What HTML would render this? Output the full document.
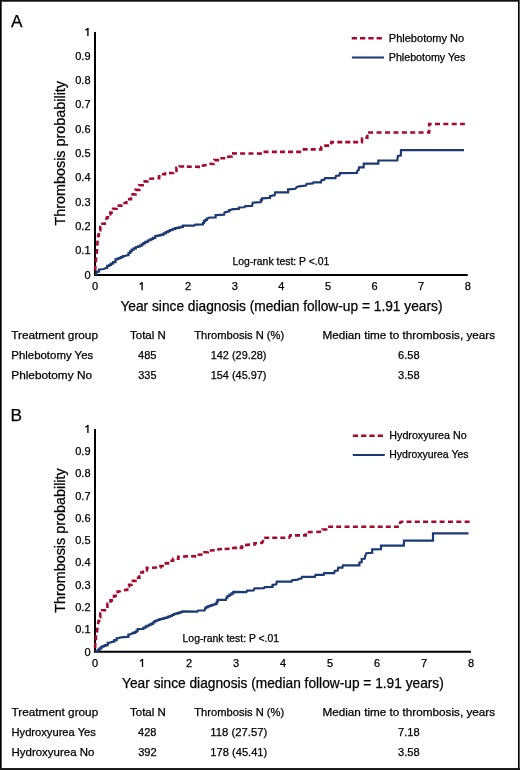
<!DOCTYPE html>
<html><head><meta charset="utf-8"><style>
html,body{margin:0;padding:0;background:#fff;}
body{width:520px;height:770px;overflow:hidden;}
svg{display:block;will-change:transform;}
text{font-family:"Liberation Sans", sans-serif;fill:#000;stroke:#000;stroke-width:0.25px;}
</style></head><body>
<svg width="520" height="770" viewBox="0 0 520 770">
<rect x="0" y="0" width="520" height="770" fill="#fff"/>
<g shape-rendering="crispEdges">
<rect x="0" y="0" width="520" height="1" fill="#111"/>
<rect x="0" y="1" width="520" height="1" fill="#555"/>
<rect x="0" y="0" width="1" height="770" fill="#000"/>
<rect x="1" y="1" width="1" height="768" fill="#555"/>
<rect x="518" y="0" width="1" height="770" fill="#000"/>
<rect x="519" y="0" width="1" height="770" fill="#5c5c5c"/>
<rect x="0" y="768" width="520" height="1" fill="#222"/>
<rect x="0" y="769" width="520" height="1" fill="#111"/>
</g>
<path d="M95 32 V274.9 H467.7" fill="none" stroke="#000" stroke-width="2" stroke-linecap="butt"/>
<text x="90.5" y="278.5" font-size="11" text-anchor="end">0</text>
<text x="90.5" y="254.21" font-size="11" text-anchor="end">0.1</text>
<text x="90.5" y="229.92" font-size="11" text-anchor="end">0.2</text>
<text x="90.5" y="205.63" font-size="11" text-anchor="end">0.3</text>
<text x="90.5" y="181.34" font-size="11" text-anchor="end">0.4</text>
<text x="90.5" y="157.05" font-size="11" text-anchor="end">0.5</text>
<text x="90.5" y="132.76" font-size="11" text-anchor="end">0.6</text>
<text x="90.5" y="108.47" font-size="11" text-anchor="end">0.7</text>
<text x="90.5" y="84.18" font-size="11" text-anchor="end">0.8</text>
<text x="90.5" y="59.89" font-size="11" text-anchor="end">0.9</text>
<path d="M87.90 28.10 V35.90" stroke="#000" stroke-width="1.35" fill="none"/><path d="M88.30 28.40 L85.40 30.20" stroke="#000" stroke-width="1.3" fill="none"/>
<text x="95.0" y="290.2" font-size="11" text-anchor="middle">0</text>
<path d="M142.09 282.30 V290.20" stroke="#000" stroke-width="1.35" fill="none"/><path d="M142.49 282.60 L139.59 284.40" stroke="#000" stroke-width="1.3" fill="none"/>
<text x="188.18" y="290.2" font-size="11" text-anchor="middle">2</text>
<text x="234.76" y="290.2" font-size="11" text-anchor="middle">3</text>
<text x="281.35" y="290.2" font-size="11" text-anchor="middle">4</text>
<text x="327.94" y="290.2" font-size="11" text-anchor="middle">5</text>
<text x="374.52" y="290.2" font-size="11" text-anchor="middle">6</text>
<text x="421.11" y="290.2" font-size="11" text-anchor="middle">7</text>
<text x="467.7" y="290.2" font-size="11" text-anchor="middle">8</text>
<polyline points="95.0,274.5 96.5,274.5 96.5,271.7 97.9,271.7 99.0,271.7 99.0,269.5 100.0,269.5 103.7,269.0 105.8,268.0 107.2,268.0 107.2,265.8 108.5,265.8 109.3,265.8 109.3,264.8 110.9,264.8 110.9,263.7 111.7,263.7 113.1,263.7 113.1,262.1 114.4,262.1 115.5,262.1 115.5,259.4 116.5,259.4 117.4,259.4 117.4,258.6 119.3,258.6 119.3,257.8 120.2,257.8 121.2,257.8 121.2,257.0 123.0,257.0 123.0,256.2 124.0,256.2 127.7,255.2 128.5,255.2 128.5,253.0 129.3,253.0 130.1,253.0 130.1,251.3 131.7,251.3 131.7,249.6 132.5,249.6 133.7,249.6 133.7,248.3 135.9,248.3 135.9,247.0 137.1,247.0 138.1,247.0 138.1,246.3 140.0,246.3 140.0,245.7 141.0,245.7 141.8,245.7 141.8,244.4 143.4,244.4 143.4,243.1 144.2,243.1 145.3,243.1 145.3,241.8 147.7,241.8 147.7,240.5 148.8,240.5 149.7,240.5 149.7,239.6 151.4,239.6 151.4,238.8 153.1,238.8 153.1,237.9 154.0,237.9 155.3,237.9 155.3,236.0 156.6,236.0 157.6,236.0 157.6,235.6 159.5,235.6 159.5,235.1 161.4,235.1 161.4,234.7 162.4,234.7 163.6,234.7 163.6,233.4 165.8,233.4 165.8,232.1 167.0,232.1 168.0,232.1 168.0,231.1 169.9,231.1 169.9,230.1 170.9,230.1 171.8,230.1 171.8,229.5 173.4,229.5 173.4,228.8 175.2,228.8 175.2,228.2 176.0,228.2 177.0,228.2 177.0,227.8 178.9,227.8 178.9,227.3 180.9,227.3 180.9,226.9 181.9,226.9 182.9,226.9 182.9,225.6 183.8,225.6 194.1,225.7 195.4,224.7 202.5,224.4 203.0,224.4 203.0,222.8 204.0,222.8 204.0,221.2 204.5,221.2 205.3,221.2 205.3,219.9 206.9,219.9 206.9,218.6 207.7,218.6 208.4,217.7 214.9,217.3 215.6,217.3 215.6,215.1 216.2,215.1 224.0,214.7 224.6,212.5 228.5,211.4 229.2,211.4 229.2,210.1 229.8,210.1 233.1,209.2 238.2,208.8 238.8,208.8 238.8,207.5 239.5,207.5 244.6,207.3 245.2,206.1 252.1,205.9 252.7,202.7 260.2,202.1 260.8,202.1 260.8,200.2 261.9,200.2 261.9,198.3 262.5,198.3 269.4,197.8 270.0,197.8 270.0,196.0 270.6,196.0 274.6,195.2 275.2,192.3 287.3,192.3 288.1,192.3 288.1,189.4 289.0,189.4 295.4,188.8 296.5,187.1 299.0,186.3 306.0,185.5 306.5,184.0 312.9,183.4 313.5,182.3 321.0,182.3 321.5,180.2 324.4,179.7 325.0,178.2 335.4,178.2 336.0,175.9 339.4,175.4 340.0,173.1 356.9,172.9 357.5,170.6 358.7,170.0 359.0,167.4 363.6,167.4 363.8,163.6 378.3,163.6 378.3,160.5 397.3,160.5 397.9,155.9 400.8,155.6 401.0,150.1 464.0,150.1" fill="none" stroke="#1b3a73" stroke-width="2.2" stroke-linejoin="miter"/>
<path d="M95.00,274.50 L95.02,273.93 M95.15,270.58 L95.35,265.59 M95.64,262.25 L96.24,257.29 M96.60,253.96 L97.10,249.30 L97.12,248.99 M97.30,245.64 L97.50,241.90 L97.64,240.65 M98.00,237.32 L98.20,235.50 L98.85,235.50 L98.85,232.99 M99.31,230.10 L99.50,230.10 L100.30,230.10 L100.30,227.00 L101.10,227.00 L101.21,227.00 M102.40,224.84 L102.40,223.80 L103.70,223.80 L104.75,223.80 L104.75,222.19 M106.23,219.94 L106.90,217.40 L107.95,217.40 L107.95,216.08 M109.42,214.20 L110.35,214.20 L110.35,212.60 L111.70,212.60 L112.82,212.60 M113.05,209.48 L113.05,208.80 L114.40,208.80 L116.50,208.80 L116.50,207.93 M117.52,205.60 L118.60,205.60 L121.30,205.60 L121.30,204.38 M123.27,203.00 L124.00,203.00 L126.35,203.00 L126.35,201.08 M127.92,199.30 L128.70,199.30 L130.95,199.30 L130.95,197.33 M131.37,194.40 L133.20,194.40 L135.45,194.40 L135.45,193.48 M135.45,190.13 L135.45,189.90 L137.70,189.90 L139.35,189.90 L139.35,189.03 M139.35,185.68 L139.35,185.30 L141.00,185.30 L142.60,185.30 L142.60,183.93 M143.42,181.40 L144.20,181.40 L147.45,181.40 L147.45,180.43 M149.17,178.80 L150.70,178.80 L154.16,178.53 M157.50,178.28 L158.50,178.20 L159.15,178.20 L159.15,176.20 L159.80,176.20 L160.50,176.20 M161.95,174.30 L163.10,174.30 L165.05,174.30 L165.05,173.65 L166.30,173.65 M169.00,173.00 L170.90,173.00 L173.15,173.00 L173.15,172.15 M175.35,171.00 L175.40,171.00 L176.40,171.00 L176.40,167.80 L177.15,167.80 M179.30,166.60 L179.30,166.50 L181.20,166.50 L184.20,166.56 M186.80,166.62 L191.80,166.73 M195.00,166.80 L199.90,166.90 L200.00,166.90 M201.77,165.60 L202.50,165.60 L206.74,165.03 M209.40,163.82 L213.60,164.00 L213.72,163.22 M214.19,160.18 L214.20,160.10 L218.80,160.10 L219.12,160.10 M220.30,158.20 L224.60,158.20 L225.30,158.20 M227.07,156.90 L227.20,156.90 L231.10,156.50 L231.75,156.50 L231.75,156.20 M232.03,153.40 L232.40,153.40 L237.03,153.43 M240.10,153.45 L245.10,153.49 M248.48,153.51 L253.48,153.54 M256.85,153.57 L261.85,153.60 M263.53,151.90 L268.53,151.90 M271.90,151.90 L276.90,151.90 M279.97,151.90 L284.97,151.90 M288.05,151.90 L293.05,151.90 M296.12,151.90 L301.12,151.90 M302.63,149.40 L307.63,149.40 M310.70,149.40 L315.70,149.40 M318.93,149.40 L320.40,149.40 L321.25,149.40 L321.25,147.10 L321.63,147.10 M324.14,145.60 L329.14,145.60 M331.27,144.43 L331.40,142.10 L334.07,142.10 M337.30,142.10 L342.30,142.10 M345.23,142.10 L350.23,142.10 M353.16,142.10 L358.16,142.10 M361.09,142.10 L361.90,142.10 L362.10,138.30 L362.48,138.24 M365.38,137.81 L366.10,137.70 L367.30,137.70 L367.30,134.63 M368.10,132.50 L368.50,132.50 L373.10,132.50 M376.55,132.50 L381.55,132.50 M385.00,132.50 L390.00,132.50 M393.45,132.50 L398.45,132.50 M401.90,132.50 L406.90,132.50 M410.22,132.50 L415.22,132.50 M418.54,132.50 L423.54,132.50 M426.86,132.50 L429.20,132.50 L429.20,129.84 M429.20,126.52 L429.20,124.00 L431.68,124.00 M435.00,124.00 L440.00,124.00 M443.35,124.00 L448.35,124.00 M451.70,124.00 L456.70,124.00 M460.05,124.00 L464.90,124.00 " fill="none" stroke="#a50a2d" stroke-width="2.6" stroke-linejoin="miter"/>
<text x="120.4" y="310.8" font-size="14.5" text-anchor="start" textLength="322.1" lengthAdjust="spacingAndGlyphs">Year since diagnosis (median follow-up = 1.91 years)</text>
<text transform="translate(65,225.5) rotate(-90)" x="0" y="0" font-size="14.5" textLength="144.5" lengthAdjust="spacingAndGlyphs">Thrombosis probability</text>
<line x1="351.7" y1="38.3" x2="382.5" y2="38.3" stroke="#a50a2d" stroke-width="2.6" stroke-dasharray="5.3 3"/>
<line x1="351.9" y1="57.5" x2="384" y2="57.5" stroke="#1b3a73" stroke-width="2.2"/>
<text x="388.8" y="41.8" font-size="10.4" text-anchor="start" textLength="75.4" lengthAdjust="spacingAndGlyphs">Phlebotomy No</text>
<text x="388.8" y="60.9" font-size="10.4" text-anchor="start" textLength="76.6" lengthAdjust="spacingAndGlyphs">Phlebotomy Yes</text>
<text x="232.5" y="264.8" font-size="10.4" text-anchor="start" textLength="96.8" lengthAdjust="spacingAndGlyphs">Log-rank test: P &lt;.01</text>
<text x="11.0" y="26.7" font-size="17.3" text-anchor="start">A</text>
<text x="11.25" y="339.2" font-size="11.3" text-anchor="start" textLength="86.75" lengthAdjust="spacingAndGlyphs">Treatment group</text>
<text x="147.9" y="339.2" font-size="11.3" text-anchor="middle" textLength="35.8" lengthAdjust="spacingAndGlyphs">Total N</text>
<text x="239.2" y="339.2" font-size="11.3" text-anchor="middle" textLength="90" lengthAdjust="spacingAndGlyphs">Thrombosis N (%)</text>
<text x="408.8" y="339.2" font-size="11.3" text-anchor="middle" textLength="172.7" lengthAdjust="spacingAndGlyphs">Median time to thrombosis, years</text>
<text x="11.25" y="359.1" font-size="11.3" text-anchor="start" textLength="82" lengthAdjust="spacingAndGlyphs">Phlebotomy Yes</text>
<text x="147.3" y="359.1" font-size="11.3" text-anchor="middle" textLength="18.5" lengthAdjust="spacingAndGlyphs">485</text>
<text x="238.6" y="359.1" font-size="11.3" text-anchor="middle" textLength="55.7" lengthAdjust="spacingAndGlyphs">142 (29.28)</text>
<text x="408.8" y="359.1" font-size="11.3" text-anchor="middle" textLength="21.6" lengthAdjust="spacingAndGlyphs">6.58</text>
<text x="11.25" y="378.8" font-size="11.3" text-anchor="start" textLength="80.75" lengthAdjust="spacingAndGlyphs">Phlebotomy No</text>
<text x="147.4" y="378.8" font-size="11.3" text-anchor="middle" textLength="18.2" lengthAdjust="spacingAndGlyphs">335</text>
<text x="238.6" y="378.8" font-size="11.3" text-anchor="middle" textLength="55.7" lengthAdjust="spacingAndGlyphs">154 (45.97)</text>
<text x="408.8" y="378.8" font-size="11.3" text-anchor="middle" textLength="21.6" lengthAdjust="spacingAndGlyphs">3.58</text>
<path d="M95 429 V651.7 H471" fill="none" stroke="#000" stroke-width="2" stroke-linecap="butt"/>
<text x="90.5" y="655.5" font-size="11" text-anchor="end">0</text>
<text x="90.5" y="633.23" font-size="11" text-anchor="end">0.1</text>
<text x="90.5" y="610.96" font-size="11" text-anchor="end">0.2</text>
<text x="90.5" y="588.69" font-size="11" text-anchor="end">0.3</text>
<text x="90.5" y="566.42" font-size="11" text-anchor="end">0.4</text>
<text x="90.5" y="544.15" font-size="11" text-anchor="end">0.5</text>
<text x="90.5" y="521.88" font-size="11" text-anchor="end">0.6</text>
<text x="90.5" y="499.61" font-size="11" text-anchor="end">0.7</text>
<text x="90.5" y="477.34" font-size="11" text-anchor="end">0.8</text>
<text x="90.5" y="455.07" font-size="11" text-anchor="end">0.9</text>
<path d="M87.90 425.10 V432.90" stroke="#000" stroke-width="1.35" fill="none"/><path d="M88.30 425.40 L85.40 427.20" stroke="#000" stroke-width="1.3" fill="none"/>
<text x="95.0" y="667" font-size="11" text-anchor="middle">0</text>
<path d="M142.50 659.10 V667.00" stroke="#000" stroke-width="1.35" fill="none"/><path d="M142.90 659.40 L140.00 661.20" stroke="#000" stroke-width="1.3" fill="none"/>
<text x="189.0" y="667" font-size="11" text-anchor="middle">2</text>
<text x="236.0" y="667" font-size="11" text-anchor="middle">3</text>
<text x="283.0" y="667" font-size="11" text-anchor="middle">4</text>
<text x="330.0" y="667" font-size="11" text-anchor="middle">5</text>
<text x="377.0" y="667" font-size="11" text-anchor="middle">6</text>
<text x="424.0" y="667" font-size="11" text-anchor="middle">7</text>
<text x="471.0" y="667" font-size="11" text-anchor="middle">8</text>
<polyline points="95.0,651.5 97.0,651.1 97.8,651.1 97.8,649.8 99.5,649.8 99.5,648.4 100.3,648.4 101.4,648.4 101.4,646.7 102.5,646.7 103.5,646.7 103.5,645.9 105.3,645.9 105.3,645.1 106.3,645.1 107.7,645.1 107.7,642.8 109.1,642.8 113.0,641.7 114.3,641.7 114.3,640.1 115.7,640.1 116.6,640.1 116.6,638.4 117.4,638.4 121.2,637.3 127.3,636.8 128.4,636.8 128.4,634.6 129.5,634.6 131.9,633.5 132.9,633.5 132.9,632.9 134.8,632.9 134.8,632.2 135.8,632.2 136.5,632.2 136.5,630.6 137.8,630.6 137.8,629.0 138.4,629.0 142.3,629.0 143.4,629.0 143.4,627.7 145.7,627.7 145.7,626.4 146.8,626.4 147.7,626.4 147.7,625.5 149.4,625.5 149.4,624.7 151.1,624.7 151.1,623.8 152.0,623.8 152.8,623.8 152.8,622.5 154.5,622.5 154.5,621.2 155.3,621.2 156.2,621.2 156.2,620.5 157.9,620.5 157.9,619.9 159.6,619.9 159.6,619.2 160.5,619.2 161.4,619.2 161.4,618.8 163.1,618.8 163.1,618.3 164.8,618.3 164.8,617.9 165.7,617.9 166.6,617.9 166.6,617.3 168.3,617.3 168.3,616.6 170.0,616.6 170.0,616.0 170.9,616.0 171.9,616.0 171.9,615.0 173.8,615.0 173.8,614.0 174.8,614.0 175.7,614.0 175.7,613.6 177.4,613.6 177.4,613.1 179.1,613.1 179.1,612.7 179.9,612.7 180.7,612.7 180.7,612.0 182.4,612.0 182.4,611.4 183.2,611.4 197.3,611.6 198.0,610.5 204.5,610.5 205.1,608.3 205.9,608.3 205.9,607.3 207.6,607.3 207.6,606.4 208.4,606.4 209.4,606.4 209.4,605.8 211.3,605.8 211.3,605.1 212.3,605.1 213.3,605.1 213.3,604.5 215.2,604.5 215.2,603.8 216.2,603.8 216.7,603.8 216.7,601.8 217.6,601.8 217.6,599.9 218.1,599.9 225.9,599.9 226.6,597.3 227.6,597.3 227.6,596.0 229.5,596.0 229.5,594.7 230.5,594.7 231.5,594.7 231.5,593.3 233.4,593.3 233.4,591.9 234.4,591.9 246.4,592.1 247.0,590.7 253.5,590.5 254.6,588.4 264.0,588.1 264.6,587.2 271.6,587.0 272.5,587.0 272.5,584.9 273.3,584.9 276.3,584.3 276.8,581.6 291.5,581.6 292.0,580.2 297.9,579.6 298.5,579.0 301.4,578.6 302.0,576.8 314.9,576.8 315.5,574.9 323.7,574.9 324.2,573.1 334.2,573.1 334.8,570.8 337.7,570.5 338.3,567.6 342.4,567.6 343.0,565.4 359.4,565.4 359.4,562.5 361.7,562.3 361.7,559.0 364.6,558.8 365.2,556.1 366.4,553.2 372.2,552.8 372.2,549.4 381.0,549.1 381.0,545.6 403.8,545.6 404.0,540.7 433.0,540.7 433.0,533.4 468.5,533.4" fill="none" stroke="#1b3a73" stroke-width="2.2" stroke-linejoin="miter"/>
<path d="M95.11,647.87 L95.26,642.87 M95.95,640.17 L95.95,635.17 M96.90,632.49 L97.49,627.53 M98.03,624.22 L98.60,620.80 L99.15,620.80 L99.15,619.82 M99.88,617.20 L100.25,617.20 L100.25,613.60 L100.80,613.60 L101.28,613.60 M102.20,611.17 L102.20,610.30 L103.60,610.30 L104.95,610.30 L104.95,608.92 M107.45,608.07 L107.45,603.70 L108.08,603.70 M110.50,602.77 L110.50,600.40 L112.40,600.40 L113.13,600.40 M114.05,597.97 L114.05,595.90 L115.70,595.90 L116.98,595.90 M117.65,593.22 L117.65,591.50 L119.60,591.50 L120.70,590.75 M123.93,590.13 L126.20,589.90 L127.20,589.90 L127.20,588.18 M128.87,586.50 L129.10,586.50 L129.10,584.80 L130.00,584.80 L131.60,584.80 L131.60,584.23 M131.62,580.90 L133.20,580.90 L135.45,580.90 L135.45,579.73 M136.77,577.70 L137.70,577.70 L139.35,577.70 L139.35,575.28 M139.92,572.50 L141.00,572.50 L142.95,572.50 L142.95,570.53 M146.27,570.50 L146.85,570.50 L146.85,567.90 L148.67,567.90 M152.01,567.76 L157.01,567.54 M160.36,567.50 L160.50,567.50 L160.50,566.00 L163.10,566.00 L163.86,566.00 M164.61,563.40 L165.70,563.40 L167.95,563.40 L167.95,561.74 M170.36,560.80 L173.10,560.80 L173.10,558.80 L173.36,558.80 M176.71,558.80 L178.30,558.80 L178.30,556.90 L179.81,556.90 M183.14,556.65 L187.70,556.20 L188.12,556.21 M191.15,556.29 L195.40,556.40 L196.15,556.40 M197.57,554.80 L198.00,554.80 L202.56,554.45 M204.50,553.32 L204.50,552.20 L205.80,552.20 L207.75,552.20 L207.75,551.57 M209.71,550.50 L214.70,550.22 M217.22,549.91 L218.80,549.20 L222.06,549.05 M224.62,548.93 L229.62,548.70 M232.15,548.47 L233.70,547.90 L237.05,547.90 M239.61,547.90 L240.80,547.90 L241.80,547.90 L241.80,546.40 L242.80,546.40 L242.97,546.14 M245.06,545.15 L250.04,544.66 M253.18,544.50 L254.60,544.50 L254.60,543.30 L256.98,543.30 M260.11,542.97 L262.20,542.70 L263.31,540.03 M264.20,537.70 L264.60,537.70 L269.20,537.70 M272.25,537.70 L277.25,537.70 M280.30,537.70 L285.30,537.70 M288.35,537.70 L289.10,537.70 L290.30,535.40 L291.95,535.40 M295.00,535.40 L300.00,535.40 M302.96,535.40 L304.90,535.40 L305.80,535.40 L305.80,533.24 M307.71,532.17 L312.71,532.04 M316.21,531.95 L321.20,531.82 M322.50,529.60 L322.50,529.50 L323.10,529.50 L326.60,529.50 L327.40,529.50 M328.10,526.70 L328.30,526.70 L333.10,526.71 M336.20,526.71 L341.20,526.72 M344.55,526.72 L349.55,526.73 M352.90,526.73 L357.90,526.74 M361.25,526.75 L366.25,526.75 M369.60,526.76 L374.60,526.77 M377.70,526.77 L382.70,526.78 M385.81,526.78 L390.81,526.79 M393.91,526.79 L398.91,526.80 M399.84,523.98 L400.30,522.20 L401.50,521.80 L403.40,521.80 M406.50,521.80 L411.50,521.80 M414.78,521.80 L419.78,521.80 M423.05,521.80 L428.05,521.80 M431.32,521.80 L436.32,521.80 M439.60,521.80 L444.60,521.80 M447.95,521.80 L452.95,521.80 M456.30,521.80 L461.30,521.80 M464.65,521.80 L469.60,521.80 " fill="none" stroke="#a50a2d" stroke-width="2.6" stroke-linejoin="miter"/>
<text x="122.1" y="687.5" font-size="14.5" text-anchor="start" textLength="321.7" lengthAdjust="spacingAndGlyphs">Year since diagnosis (median follow-up = 1.91 years)</text>
<text transform="translate(65,612.8) rotate(-90)" x="0" y="0" font-size="14.5" textLength="144.5" lengthAdjust="spacingAndGlyphs">Thrombosis probability</text>
<line x1="352.8" y1="435.7" x2="383.5" y2="435.7" stroke="#a50a2d" stroke-width="2.6" stroke-dasharray="5.3 3"/>
<line x1="352.8" y1="455" x2="384.8" y2="455" stroke="#1b3a73" stroke-width="2.2"/>
<text x="389.3" y="439.1" font-size="10.4" text-anchor="start" textLength="77.4" lengthAdjust="spacingAndGlyphs">Hydroxyurea No</text>
<text x="389.3" y="458.4" font-size="10.4" text-anchor="start" textLength="79.2" lengthAdjust="spacingAndGlyphs">Hydroxyurea Yes</text>
<text x="182.6" y="641.5" font-size="10.4" text-anchor="start" textLength="96.4" lengthAdjust="spacingAndGlyphs">Log-rank test: P &lt;.01</text>
<text x="10.5" y="421.3" font-size="17.3" text-anchor="start">B</text>
<text x="11.5" y="715.9" font-size="11.3" text-anchor="start" textLength="86.75" lengthAdjust="spacingAndGlyphs">Treatment group</text>
<text x="147.9" y="715.9" font-size="11.3" text-anchor="middle" textLength="35.8" lengthAdjust="spacingAndGlyphs">Total N</text>
<text x="239.2" y="715.9" font-size="11.3" text-anchor="middle" textLength="90" lengthAdjust="spacingAndGlyphs">Thrombosis N (%)</text>
<text x="408.8" y="715.9" font-size="11.3" text-anchor="middle" textLength="172.7" lengthAdjust="spacingAndGlyphs">Median time to thrombosis, years</text>
<text x="11.5" y="735.8" font-size="11.3" text-anchor="start" textLength="84.4" lengthAdjust="spacingAndGlyphs">Hydroxyurea Yes</text>
<text x="147.3" y="735.8" font-size="11.3" text-anchor="middle" textLength="18.5" lengthAdjust="spacingAndGlyphs">428</text>
<text x="238.8" y="735.8" font-size="11.3" text-anchor="middle" textLength="56.9" lengthAdjust="spacingAndGlyphs">118 (27.57)</text>
<text x="408.8" y="735.8" font-size="11.3" text-anchor="middle" textLength="21.6" lengthAdjust="spacingAndGlyphs">7.18</text>
<text x="11.5" y="755.8" font-size="11.3" text-anchor="start" textLength="82.9" lengthAdjust="spacingAndGlyphs">Hydroxyurea No</text>
<text x="147.4" y="755.8" font-size="11.3" text-anchor="middle" textLength="18.5" lengthAdjust="spacingAndGlyphs">392</text>
<text x="238.8" y="755.8" font-size="11.3" text-anchor="middle" textLength="56.9" lengthAdjust="spacingAndGlyphs">178 (45.41)</text>
<text x="408.8" y="755.8" font-size="11.3" text-anchor="middle" textLength="21.6" lengthAdjust="spacingAndGlyphs">3.58</text>

</svg>
</body></html>
